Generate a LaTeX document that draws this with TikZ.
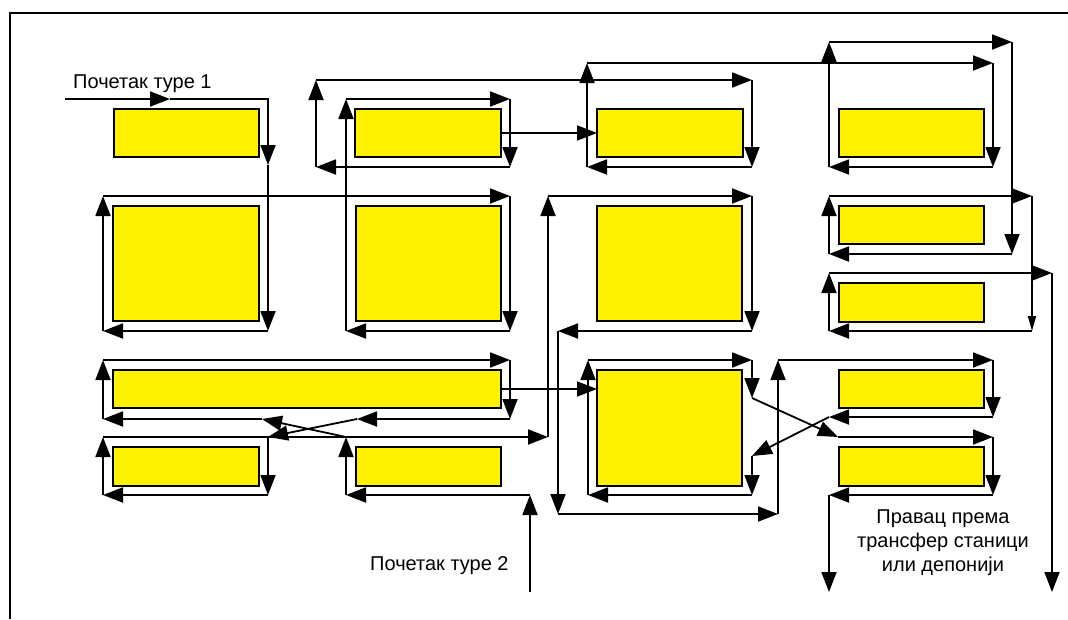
\documentclass[tikz,border=0pt]{standalone}
\usepackage{fontspec}
\setmainfont{Liberation Sans}
\usetikzlibrary{arrows.meta}
\begin{document}
\begin{tikzpicture}[x=1pt,y=-1pt,
  box/.style={draw, fill=yellow, line width=2pt, inner sep=0pt, outer sep=0pt, anchor=north west},
  conn/.style={line width=1.8pt, -{Triangle[length=20pt,width=15pt]}},
  smallconn/.style={line width=1.8pt, -{Triangle[length=15pt,width=8pt]}},
  lab/.style={font=\fontsize{20}{24}\selectfont, inner sep=0pt}]
\useasboundingbox (0,0) rectangle (1068,619);
\draw[line width=2pt] (10,619) -- (10,13) -- (1068,13);

% boxes
\node[box, minimum width=145pt, minimum height=48pt] (b1) at (114,109) {};
\node[box, minimum width=146pt, minimum height=48pt] (b2) at (355,109) {};
\node[box, minimum width=146pt, minimum height=48pt] (b3) at (597,109) {};
\node[box, minimum width=145pt, minimum height=48pt] (b4) at (839,109) {};
\node[box, minimum width=146pt, minimum height=115pt] (b5) at (113,206) {};
\node[box, minimum width=145pt, minimum height=115pt] (b6) at (356,206) {};
\node[box, minimum width=145pt, minimum height=115pt] (b7) at (597,206) {};
\node[box, minimum width=145pt, minimum height=38pt] (b8) at (839,206) {};
\node[box, minimum width=145pt, minimum height=39pt] (b9) at (839,283) {};
\node[box, minimum width=388pt, minimum height=38pt] (b10) at (113,370) {};
\node[box, minimum width=145pt, minimum height=116pt] (b11) at (597,370) {};
\node[box, minimum width=145pt, minimum height=38pt] (b12) at (839,370) {};
\node[box, minimum width=145pt, minimum height=39pt] (b13) at (839,447) {};
\node[box, minimum width=146pt, minimum height=39pt] (b14) at (113,447) {};
\node[box, minimum width=145pt, minimum height=39pt] (b15) at (356,447) {};

% labels
\node[lab, anchor=base west] (l1) at (73,88) {Почетак туре 1};
\node[lab, anchor=base west] (l2) at (370,570) {Почетак туре 2};
\node[lab, anchor=north, align=center] (l3) at (943,510) {Правац према\\трансфер станици\\или депонији};

% tour 1 corners
\foreach \n/\p in {s1/{65,99},a1/{170,99},a2/{268,99},a3/{268,165},a4/{268,331},a5/{103,331},
  a6/{103,196},a7/{510,196},a8/{510,331},a9/{346,331},a10/{346,99},a11/{510,99},a12/{510,167},
  a13/{316,167},a14/{316,80},a15/{752,80},a16/{752,167},a17/{587,167},a18/{587,63},a19/{993,63},
  a20/{993,167},a21/{829,167},a22/{829,42},a23/{1012,42},a24/{1012,254},a25/{829,254},
  a26/{829,196},a27/{1032,196},a28/{1032,331},a29/{829,331},a30/{829,273},a31/{1052,273},
  a32/{1052,592}}
  \coordinate (\n) at (\p);

% tour 2 corners
\foreach \n/\p in {t0/{530,592},t1/{530,495},t2/{346,495},t3/{346,437},t4/{262,419},t5/{103,419},
  t6/{103,360},t7/{510,360},t8/{510,419},t9/{357,419},t10/{268,437},t11/{268,495},t12/{103,495},
  t13/{103,437},t14/{548,437},t15/{548,196},t16/{752,196},t17/{752,331},t18/{558,331},
  t19/{558,514},t20/{778,514},t21/{778,360},t22/{993,360},t23/{993,417},t24/{829,417},
  t25/{752,456},t26/{752,495},t27/{588,495},t28/{588,360},t29/{752,360},t30/{752,398},
  t31/{838,437},t32/{993,437},t33/{993,495},t34/{829,495},t35/{829,592}}
  \coordinate (\n) at (\p);

% tour 1 route
\draw[conn] (s1) -- (a1);
\draw[conn] (a1) -- (a2) -- (a3);
\foreach \a/\b in {a3/a4,a4/a5,a5/a6,a6/a7,a7/a8,a8/a9,a9/a10,a10/a11,a11/a12,a12/a13,a13/a14,
  a14/a15,a15/a16,a16/a17,a17/a18,a18/a19,a19/a20,a20/a21,a21/a22,a22/a23,a23/a24,a24/a25,
  a25/a26,a26/a27,a28/a29,a29/a30,a30/a31,a31/a32}
  \draw[conn] (\a) -- (\b);
\draw[smallconn] (a27) -- (a28);

% tour 2 route
\foreach \a/\b in {t0/t1,t1/t2,t2/t3,t3/t4,t4/t5,t5/t6,t6/t7,t7/t8,t8/t9,t9/t10,t10/t11,t11/t12,
  t12/t13,t13/t14,t14/t15,t15/t16,t16/t17,t17/t18,t18/t19,t19/t20,t20/t21,t21/t22,t22/t23,
  t23/t24,t24/t25,t25/t26,t26/t27,t27/t28,t28/t29,t29/t30,t30/t31,t31/t32,t32/t33,t33/t34,t34/t35}
  \draw[conn] (\a) -- (\b);

% direct transfers between boxes
\draw[conn] (b2.east) -- (b2.east -| b3.west);
\draw[conn] (b10.east) -- (b10.east -| b11.west);
\end{tikzpicture}
\end{document}
